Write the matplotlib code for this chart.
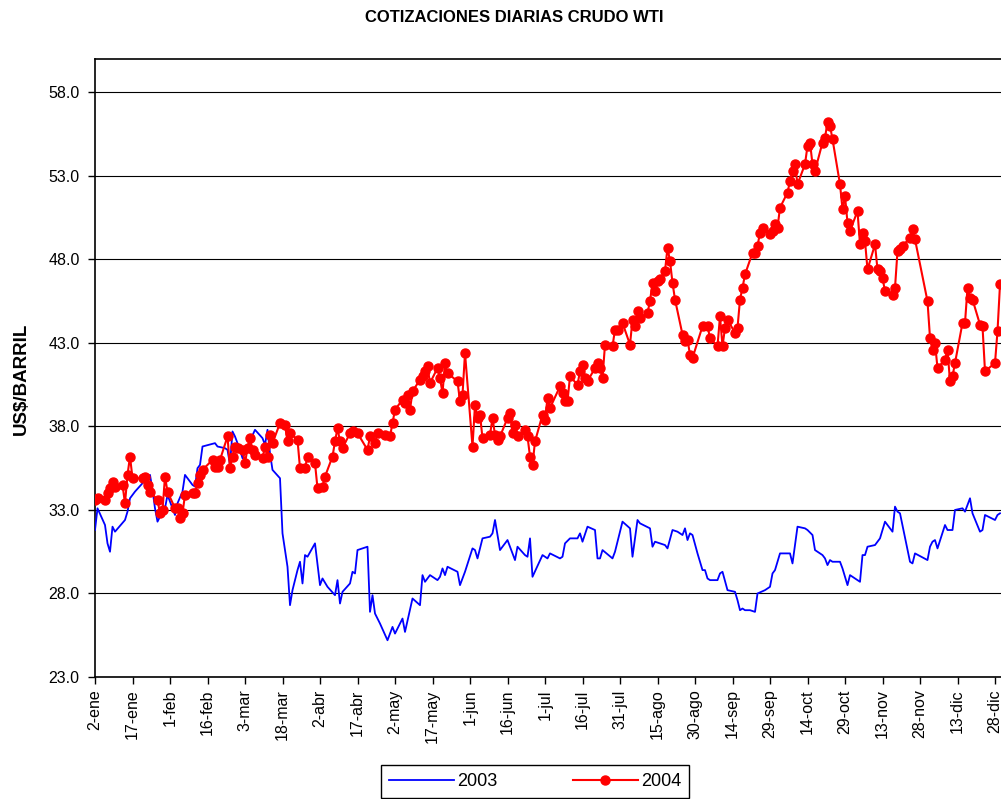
import matplotlib
matplotlib.use("Agg")
import matplotlib.pyplot as plt

plt.rcParams['font.family'] = ['Liberation Sans', 'DejaVu Sans']

# days counted from 2 January
days_2003 = [0, 1, 4, 5, 6, 7, 8, 12, 13, 14, 16, 19, 20, 21, 22, 23, 24, 25, 26, 28,
             29, 32, 33, 35, 36, 39, 40, 41, 42, 43, 48, 49, 52, 53, 54, 55, 56, 58, 59, 61,
             64, 67, 68, 69, 70, 71, 74, 75, 77, 78, 79, 81, 82, 83, 84, 85, 88, 90, 91, 93,
             96, 97, 98, 99, 102, 103, 104, 105, 109, 110, 111, 112, 114, 117, 119, 120, 123, 124, 127, 130,
             131, 132, 134, 137, 138, 139, 140, 141, 145, 146, 148, 151, 152, 153, 155, 158, 159, 160, 162, 165,
             167, 168, 169, 172, 173, 174, 175, 179, 181, 182, 186, 187, 188, 190, 193, 194, 195, 197, 200, 201,
             202, 203, 207, 208, 211, 214, 215, 217, 218, 222, 223, 224, 228, 229, 231, 233, 235, 236, 237, 238,
             239, 241, 243, 244, 245, 246, 249, 250, 251, 253, 256, 257, 258, 259, 260, 262, 264, 265, 268, 270,
             271, 272, 274, 277, 278, 279, 281, 284, 285, 287, 288, 291, 292, 293, 294, 295, 298, 299, 301, 302,
             304, 306, 307, 308, 309, 312, 313, 314, 316, 319, 320, 321, 322, 326, 327, 328, 333, 334, 335, 336,
             337, 340, 341, 343, 344, 347, 348, 350, 351, 354, 355, 356, 360, 361, 362]
wti_2003 = [31.8, 33.1, 32.1, 31.0, 30.5, 32.0, 31.7, 32.4, 32.9, 33.7, 34.1, 34.6, 34.8, 34.8, 35.1, 34.2, 33.1, 32.3, 32.6, 33.1,
            33.9, 32.7, 33.4, 34.1, 35.1, 34.5, 34.4, 35.5, 35.7, 36.8, 37.0, 36.8, 36.7, 36.6, 35.7, 37.7, 37.4, 36.6, 36.1, 36.8,
            37.8, 37.3, 36.9, 37.8, 36.4, 35.4, 34.9, 31.6, 29.6, 27.3, 28.2, 29.4, 29.9, 28.6, 30.3, 30.2, 31.0, 28.5, 28.9, 28.4,
            27.9, 28.8, 27.4, 28.1, 28.6, 29.3, 29.2, 30.6, 30.8, 26.9, 27.9, 26.8, 26.2, 25.2, 26.0, 25.6, 26.5, 25.7, 27.7, 27.3,
            29.1, 28.7, 29.1, 28.8, 29.0, 29.5, 29.1, 29.6, 29.3, 28.5, 29.3, 30.7, 30.6, 30.1, 31.3, 31.4, 31.6, 32.4, 30.6, 31.2,
            30.4, 30.0, 30.8, 30.3, 30.2, 31.3, 29.0, 30.3, 30.1, 30.4, 30.1, 30.2, 31.0, 31.3, 31.3, 31.6, 31.1, 32.0, 31.8, 30.1,
            30.1, 30.6, 30.1, 30.5, 32.3, 31.9, 30.2, 32.4, 32.2, 31.9, 30.8, 31.1, 30.9, 30.7, 31.8, 31.7, 31.5, 31.9, 31.2, 31.6,
            31.5, 30.4, 29.4, 29.4, 28.9, 28.8, 28.8, 29.2, 29.3, 28.2, 28.1, 27.6, 27.0, 27.1, 27.0, 27.0, 26.9, 28.0, 28.2, 28.4,
            29.2, 29.4, 30.4, 30.4, 30.4, 29.8, 32.0, 31.9, 31.8, 31.5, 30.6, 30.3, 30.1, 29.7, 30.0, 29.9, 29.9, 29.5, 28.5, 29.1,
            28.9, 28.7, 30.3, 30.3, 30.8, 30.9, 31.1, 31.3, 32.3, 31.7, 33.2, 32.9, 32.8, 29.9, 29.8, 30.4, 30.0, 30.8, 31.1, 31.2,
            30.7, 32.1, 31.8, 31.8, 33.0, 33.1, 32.9, 33.7, 32.8, 31.7, 31.8, 32.7, 32.4, 32.7, 32.8]

days_2004 = [0, 1, 4, 5, 6, 7, 8, 11, 12, 13, 14, 15, 19, 20, 21, 22, 25, 26, 27, 28,
             29, 32, 33, 34, 35, 36, 39, 40, 41, 42, 43, 47, 48, 49, 50, 53, 54, 55, 56, 57,
             59, 60, 61, 62, 63, 64, 67, 68, 69, 70, 71, 74, 76, 77, 78, 81, 82, 84, 85, 88,
             89, 91, 92, 95, 96, 97, 98, 99, 102, 103, 105, 109, 110, 112, 113, 116, 118, 119, 120, 123,
             124, 125, 126, 127, 130, 131, 132, 133, 134, 137, 138, 139, 140, 141, 145, 146, 147, 148, 151, 152,
             153, 154, 155, 158, 159, 160, 161, 162, 165, 166, 167, 168, 169, 172, 173, 174, 175, 176, 179, 180,
             181, 182, 186, 187, 188, 189, 190, 193, 194, 195, 196, 197, 200, 201, 202, 203, 204, 207, 208, 209,
             211, 214, 215, 216, 217, 218, 221, 222, 223, 224, 225, 226, 228, 229, 230, 231, 232, 235, 236, 237,
             238, 239, 243, 245, 246, 249, 250, 251, 252, 253, 256, 257, 258, 259, 260, 263, 264, 265, 266, 267,
             270, 271, 272, 273, 274, 277, 278, 279, 280, 281, 284, 285, 286, 287, 288, 291, 292, 293, 294, 295,
             298, 299, 300, 301, 302, 305, 306, 307, 308, 309, 312, 313, 314, 315, 316, 319, 320, 321, 322, 323,
             326, 327, 328, 333, 334, 335, 336, 337, 340, 341, 342, 343, 344, 347, 348, 349, 350, 351, 354, 355,
             356, 360, 361, 362]
wti_2004 = [33.6, 33.7, 33.6, 34.0, 34.3, 34.7, 34.4, 34.5, 33.4, 35.1, 36.2, 34.9, 34.9, 35.0, 34.5, 34.1, 33.6, 32.8, 33.0, 35.0,
            34.1, 33.1, 33.1, 32.5, 32.8, 33.9, 34.0, 34.0, 34.6, 35.1, 35.4, 36.0, 35.6, 35.6, 36.0, 37.4, 35.5, 36.2, 36.8, 36.7,
            36.6, 35.8, 36.7, 37.3, 36.6, 36.3, 36.1, 36.8, 36.2, 37.5, 37.0, 38.2, 38.1, 37.1, 37.6, 37.2, 35.5, 35.5, 36.2, 35.8,
            34.3, 34.4, 35.0, 36.2, 37.1, 37.9, 37.1, 36.7, 37.6, 37.7, 37.6, 36.6, 37.4, 37.0, 37.6, 37.5, 37.4, 38.2, 39.0, 39.6,
            39.4, 39.9, 39.0, 40.1, 40.8, 41.0, 41.3, 41.6, 40.6, 41.5, 40.9, 40.0, 41.8, 41.2, 40.7, 39.5, 39.9, 42.4, 36.8, 39.3,
            38.5, 38.7, 37.3, 37.5, 38.5, 37.5, 37.2, 37.4, 38.5, 38.8, 37.6, 38.1, 37.4, 37.8, 37.4, 36.2, 35.7, 37.1, 38.7, 38.4,
            39.7, 39.1, 40.4, 40.0, 39.5, 39.5, 41.0, 40.5, 41.3, 41.7, 40.9, 40.7, 41.5, 41.8, 41.5, 40.9, 42.9, 42.8, 43.8, 43.8,
            44.2, 42.9, 44.4, 44.0, 44.9, 44.5, 44.8, 45.5, 46.6, 46.1, 46.7, 46.8, 47.3, 48.7, 47.9, 46.6, 45.6, 43.5, 43.1, 43.2,
            42.3, 42.1, 44.0, 44.0, 43.3, 42.8, 44.6, 42.8, 43.9, 44.4, 43.6, 43.9, 45.6, 46.3, 47.1, 48.4, 48.4, 48.8, 49.6, 49.9,
            49.5, 49.7, 50.1, 49.9, 51.1, 52.0, 52.7, 53.3, 53.7, 52.5, 53.7, 54.8, 55.0, 53.7, 53.3, 55.0, 55.3, 56.2, 56.0, 55.2,
            52.5, 51.0, 51.8, 50.2, 49.7, 50.9, 48.9, 49.6, 49.1, 47.4, 48.9, 47.4, 47.3, 46.9, 46.1, 45.9, 46.3, 48.5, 48.6, 48.8,
            49.3, 49.8, 49.2, 45.5, 43.3, 42.6, 43.0, 41.5, 42.0, 42.6, 40.7, 41.0, 41.8, 44.2, 44.2, 46.3, 45.7, 45.6, 44.1, 44.0,
            41.3, 41.8, 43.7, 46.5]

tick_days = list(range(0, 361, 15))
tick_labels = ['2-ene', '17-ene', '1-feb', '16-feb', '3-mar', '18-mar', '2-abr', '17-abr', '2-may',
               '17-may', '1-jun', '16-jun', '1-jul', '16-jul', '31-jul', '15-ago', '30-ago', '14-sep',
               '29-sep', '14-oct', '29-oct', '13-nov', '28-nov', '13-dic', '28-dic']
y_ticks = [23, 28, 33, 38, 43, 48, 53, 58]

fig = plt.figure(figsize=(10.01, 7.99), dpi=100)
ax = fig.add_axes([95 / 1001, 122 / 799, 912.5 / 1001, 618 / 799])

ax.plot(days_2003, wti_2003, color='#0000FF', lw=1.3, label='2003', zorder=3)
ax.plot(days_2004, wti_2004, color='#FF0000', lw=1.5, marker='o', markersize=6.5,
        markeredgecolor='#FF0000', label='2004', zorder=4)

ax.set_xlim(0, 365)
ax.set_ylim(23, 60)
ax.set_yticks(y_ticks)
ax.set_yticklabels([f'{v:.1f}' for v in y_ticks])
ax.set_xticks(tick_days)
ax.set_xticklabels(tick_labels, rotation=90)
ax.tick_params(axis='both', labelsize=11.5, length=5, width=1, direction='out', color='black')
ax.tick_params(axis='x', pad=4)
ax.tick_params(axis='y', pad=6)
ax.grid(axis='y', color='black', lw=0.8)
ax.set_axisbelow(True)
for s in ax.spines.values():
    s.set_linewidth(1.2)
    s.set_color('black')

ax.set_ylabel('US$/BARRIL', fontsize=13.5, fontweight='bold')
ax.yaxis.set_label_coords(-65 / 912.5, (677 - 379) / 618)
fig.text(514 / 1001, 1 - 17 / 799, 'COTIZACIONES DIARIAS CRUDO WTI', ha='center', va='center',
         fontsize=12, fontweight='bold')

leg = fig.legend(loc='lower center', bbox_to_anchor=(535 / 1001, 1 / 799), ncol=2, fontsize=13,
                 frameon=True, fancybox=False, edgecolor='black', framealpha=1,
                 handlelength=3.6, columnspacing=4.2, borderpad=0.45, handletextpad=0.15,
                 borderaxespad=0.0)
leg.get_frame().set_linewidth(1.0)

fig.savefig('out.png', dpi=100)
